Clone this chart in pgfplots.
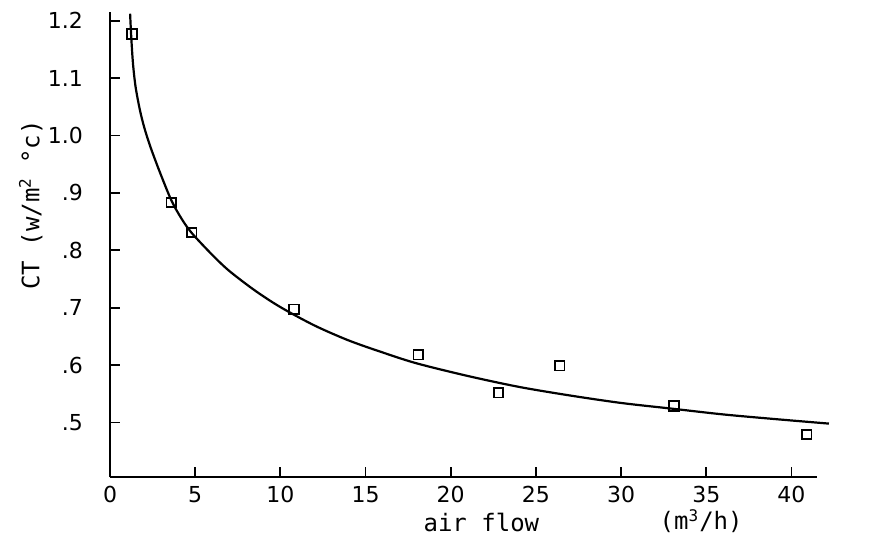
\documentclass[border=0pt]{standalone}
\usepackage{fontspec}
\setmainfont{DejaVu Sans Mono}
\setmonofont{DejaVu Sans Mono}
\newfontfamily\tickfont{DejaVu Sans}
\usepackage{pgfplots}
\pgfplotsset{compat=1.18}
\begin{document}
\begin{tikzpicture}
\path[use as bounding box] (-55pt,-32.5pt) rectangle (384pt,238.5pt);
\begin{axis}[
  at={(0,0)}, anchor=south west,
  scale only axis, width=353.5pt, height=232.5pt,
  xmin=0, xmax=41.5, ymin=0.405, ymax=1.215,
  axis lines=left, axis line style={-, line width=1.1pt},
  tick align=inside, major tick length=5pt,
  tick style={line width=0.9pt, black},
  xtick={0,5,10,15,20,25,30,35,40},
  xticklabels={0,5,10,15,20,25,30,35,40},
  ytick={0.5,0.6,0.7,0.8,0.9,1.0,1.1,1.2},
  yticklabels={.5,.6,.7,.8,.9,1.0,1.1,1.2},
  ticklabel style={font=\tickfont\fontsize{11}{13}\selectfont},
  yticklabel style={xshift=-10pt},
  xticklabel style={yshift=-1pt},
  clip=false,
]
\addplot[black, line width=1.1pt, smooth, tension=0.5] coordinates {
(1.18,1.212) (1.25,1.17) (1.35,1.125) (1.5,1.085) (1.75,1.045) (2.0,1.015)
(2.35,0.982) (2.9,0.938) (3.6,0.887) (4.2,0.855) (4.8,0.830) (6,0.792)
(7,0.764) (8.5,0.730) (10,0.701) (12,0.669) (14,0.643) (16,0.622)
(18,0.603) (21,0.581) (24,0.562) (27,0.547) (30,0.534) (33,0.524)
(36,0.514) (39,0.506) (42.2,0.498)
};
\addplot[black, only marks, mark=square, mark size=2.4pt, mark options={line width=0.9pt}] coordinates {
(1.3,1.177) (3.6,0.883) (4.8,0.831) (10.8,0.697) (18.1,0.618)
(22.8,0.552) (26.4,0.599) (33.1,0.529) (40.9,0.479)
};
\node[rotate=90, font=\fontsize{12}{14}\selectfont] at (axis cs:-4.65,0.879) {CT (w/m\textsuperscript{2} °c)};
\node[font=\fontsize{12}{14}\selectfont] at (axis cs:21.8,0.325) {air flow};
\node[font=\fontsize{12}{14}\selectfont] at (axis cs:34.7,0.328) {(m\textsuperscript{3}/h)};
\end{axis}
\end{tikzpicture}
\end{document}
